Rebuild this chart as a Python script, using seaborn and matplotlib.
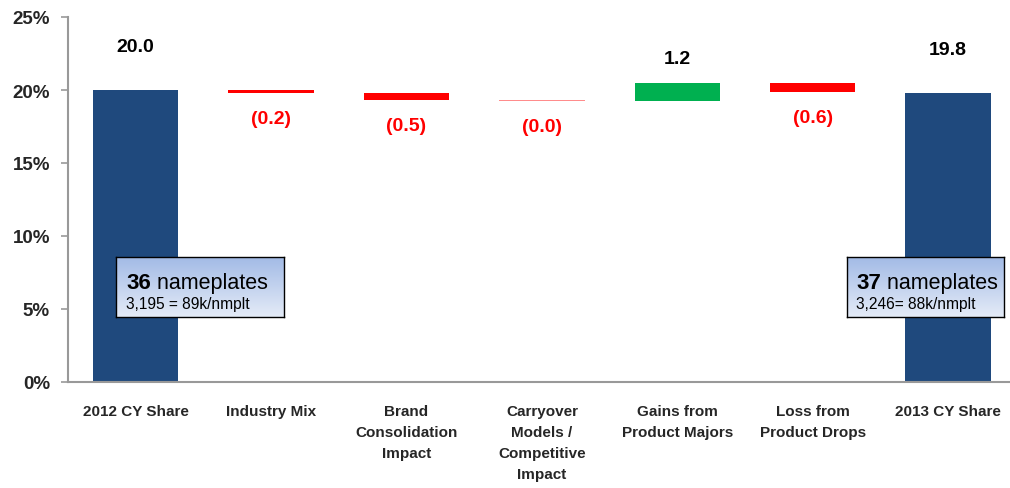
import matplotlib
matplotlib.use("Agg")
import matplotlib.pyplot as plt
import numpy as np
import seaborn as sns

# Data
categories = [
    "2012 CY Share",
    "Industry Mix",
    "Brand\nConsolidation\nImpact",
    "Carryover\nModels /\nCompetitive\nImpact",
    "Gains from\nProduct Majors",
    "Loss from\nProduct Drops",
    "2013 CY Share",
]
deltas = [20.0, -0.2, -0.5, -0.04, 1.2, -0.6, 19.8]
kinds = ["total", "delta", "delta", "delta", "delta", "delta", "total"]
value_labels = ["20.0", "(0.2)", "(0.5)", "(0.0)", "1.2", "(0.6)", "19.8"]
box_counts = ["36", "37"]
box_notes = ["3,195 = 89k/nmplt", "3,246= 88k/nmplt"]

NAVY = "#1F497D"
RED = "#FF0000"
GREEN = "#00B050"
PINK = "#FF8C8C"

# waterfall geometry
bottoms, heights, colors = [], [], []
level = 0.0
for d, k in zip(deltas, kinds):
    if k == "total":
        bottoms.append(0.0)
        heights.append(d)
        colors.append(NAVY)
        level = d
    else:
        new = level + d
        bottoms.append(min(level, new))
        heights.append(abs(d))
        if abs(d) < 0.1:
            colors.append(PINK)
        else:
            colors.append(GREEN if d > 0 else RED)
        level = new

sns.set_style("white")
plt.rcParams["font.family"] = ["Liberation Sans Narrow", "Liberation Sans", "DejaVu Sans"]

fig = plt.figure(figsize=(10.1, 4.89), dpi=100)
ax = fig.add_axes([68 / 1010, 1 - 383 / 489, 941 / 1010, 365 / 489])

sns.barplot(x=categories, y=heights, bottom=bottoms, color=NAVY, width=0.63,
            ax=ax, linewidth=0)
for patch, c in zip(ax.patches, colors):
    patch.set_facecolor(c)

ax.set_ylim(0, 25)
ax.set_xlim(-0.48, 6.45)
ax.set_yticks([0, 5, 10, 15, 20, 25])
ax.set_yticklabels(["0%", "5%", "10%", "15%", "20%", "25%"],
                   fontsize=13.5, fontweight="bold")
ax.set_xticks(np.arange(-0.5, 6.5, 1.0), minor=True)
ax.tick_params(axis="x", which="major", length=0, pad=16)
ax.tick_params(axis="x", which="minor", length=5, width=1.2, color="#999999",
               direction="out")
ax.tick_params(axis="y", length=5, width=1.2, color="#999999", direction="out",
               pad=8, left=True)
for lab in ax.get_xticklabels():
    lab.set_fontsize(11)
    lab.set_fontweight("bold")
    lab.set_linespacing(1.62)
    lab.set_verticalalignment("top")
for side in ["top", "right"]:
    ax.spines[side].set_visible(False)
for side in ["left", "bottom"]:
    ax.spines[side].set_color("#999999")
    ax.spines[side].set_linewidth(1.5)

# value labels
for i, (b, h, k, d, t) in enumerate(zip(bottoms, heights, kinds, deltas, value_labels)):
    if k == "total":
        ax.text(i, b + h + 3.0, t, ha="center", va="center", fontsize=14,
                fontweight="bold", color="black")
    elif d > 0:
        ax.text(i, b + h + 1.7, t, ha="center", va="center", fontsize=14,
                fontweight="bold", color="black")
    else:
        ax.text(i, b - 1.75, t, ha="center", va="center", fontsize=14,
                fontweight="bold", color=RED)

# nameplate boxes with gradient fill
grad = np.linspace(0, 1, 64).reshape(-1, 1)
cmap = matplotlib.colors.LinearSegmentedColormap.from_list(
    "box", ["#A3BBE6", "#E4EBF7"])
box_px = [(116, 258, 168, 60), (847, 258, 157, 60)]
for (x0, y0, w, h), cnt, note in zip(box_px, box_counts, box_notes):
    bax = fig.add_axes([x0 / 1010, 1 - (y0 + h) / 489, w / 1010, h / 489])
    bax.imshow(grad, aspect="auto", cmap=cmap, extent=(0, 1, 0, 1))
    bax.set_xticks([])
    bax.set_yticks([])
    for s in bax.spines.values():
        s.set_color("black")
        s.set_linewidth(1.0)
    t1 = bax.text(0.06, 0.58, cnt, fontsize=16, fontweight="bold", color="black",
                  family=["Liberation Sans", "DejaVu Sans"], va="center", ha="left",
                  transform=bax.transAxes)
    bax.annotate(" nameplates", xycoords=t1, xy=(1, 0.5), va="center", ha="left",
                 fontsize=15.5, color="black",
                 family=["Liberation Sans", "DejaVu Sans"])
    bax.text(0.06, 0.23, note, fontsize=11.2, va="center", ha="left", color="black",
             family=["Liberation Sans", "DejaVu Sans"], transform=bax.transAxes)

fig.savefig("out.png", dpi=100)
